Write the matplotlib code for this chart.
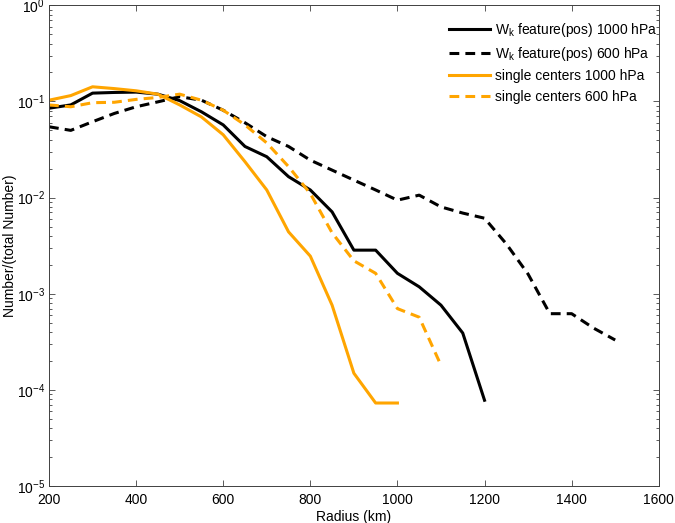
import numpy as np
import matplotlib
matplotlib.use('Agg')
import matplotlib.pyplot as plt

plt.rcParams['font.family'] = ['Liberation Sans', 'DejaVu Sans']
plt.rcParams['font.size'] = 10
plt.rcParams['mathtext.fontset'] = 'custom'
plt.rcParams['mathtext.rm'] = 'Liberation Sans'

# ----- data (radius in km, normalised counts)
r_wk_1000 = [200, 250, 300, 350, 400, 450, 500, 550, 600, 650, 700, 750, 800,
             850, 900, 950, 1000, 1050, 1100, 1150, 1200]
wk_1000 = [0.085, 0.092, 0.122, 0.124, 0.125, 0.119, 0.102, 0.078, 0.057, 0.034,
           0.0266, 0.0165, 0.012, 0.0071, 0.00284, 0.00284, 0.00163, 0.00118,
           0.00076, 0.00039, 7.8e-5]

r_wk_600 = [200, 250, 300, 350, 400, 450, 500, 550, 600, 650, 700, 750, 800,
            850, 900, 950, 1000, 1050, 1100, 1150, 1200, 1250, 1300, 1350,
            1400, 1450, 1500]
wk_600 = [0.0545, 0.050, 0.0615, 0.075, 0.088, 0.099, 0.112, 0.103, 0.081, 0.060,
          0.043, 0.034, 0.0245, 0.0193, 0.0152, 0.012, 0.0094, 0.0106, 0.008,
          0.0069, 0.0061, 0.0033, 0.0016, 0.00062, 0.00062, 0.00044, 0.00033]

r_sc_1000 = [200, 250, 300, 350, 400, 450, 500, 550, 600, 650, 700, 750, 800,
             850, 900, 950, 1000]
sc_1000 = [0.103, 0.115, 0.142, 0.136, 0.129, 0.119, 0.092, 0.069, 0.045, 0.0236,
           0.012, 0.0044, 0.00246, 0.00076, 1.49e-4, 7.3e-5, 7.3e-5]

r_sc_600 = [200, 250, 300, 350, 400, 450, 500, 550, 600, 650, 700, 750, 800,
            850, 900, 950, 1000, 1050, 1100]
sc_600 = [0.092, 0.088, 0.097, 0.098, 0.105, 0.110, 0.119, 0.103, 0.081, 0.057,
          0.037, 0.021, 0.011, 0.0043, 0.0022, 0.00163, 0.0007, 0.00057, 1.8e-4]

orange = '#FFA500'
lw = 2.2

fig = plt.figure(figsize=(6.75, 5.23), dpi=100)
ax = fig.add_axes([0.0726, 0.0707, 0.9033, 0.9192])

ax.semilogy(r_wk_1000, wk_1000, color='k', lw=lw, label=r'W$_{\rm k}$ feature(pos) 1000 hPa')
ax.semilogy(r_wk_600, wk_600, color='k', lw=lw, ls='--', dashes=(3.2, 2),
            label=r'W$_{\rm k}$ feature(pos) 600 hPa')
ax.semilogy(r_sc_1000, sc_1000, color=orange, lw=lw, label='single centers 1000 hPa')
ax.semilogy(r_sc_600, sc_600, color=orange, lw=lw, ls='--', dashes=(3.2, 2),
            label='single centers 600 hPa')

ax.set_xlim(200, 1600)
ax.set_ylim(1e-5, 1)
ax.set_xticks(np.arange(200, 1601, 200))
ax.set_xlabel('Radius (km)', labelpad=2)
ax.set_ylabel('Number/(total Number)')
ax.yaxis.set_label_coords(-0.052, 0.5)

for s in ax.spines.values():
    s.set_color('#404040')
    s.set_linewidth(0.7)
ax.tick_params(which='both', direction='in', top=True, right=True, color='#404040', width=0.6)
ax.tick_params(which='major', length=4.5, pad=3)
ax.tick_params(which='minor', length=2.5)
ax.tick_params(axis='x', which='minor', bottom=False, top=False)
ax.tick_params(axis='x', pad=5)

leg = ax.legend(loc='upper right', frameon=False, handlelength=2.9, handletextpad=0.4,
                labelspacing=0.45, borderaxespad=0.2, bbox_to_anchor=(1.012, 0.985))

fig.savefig('out.png', dpi=100)
